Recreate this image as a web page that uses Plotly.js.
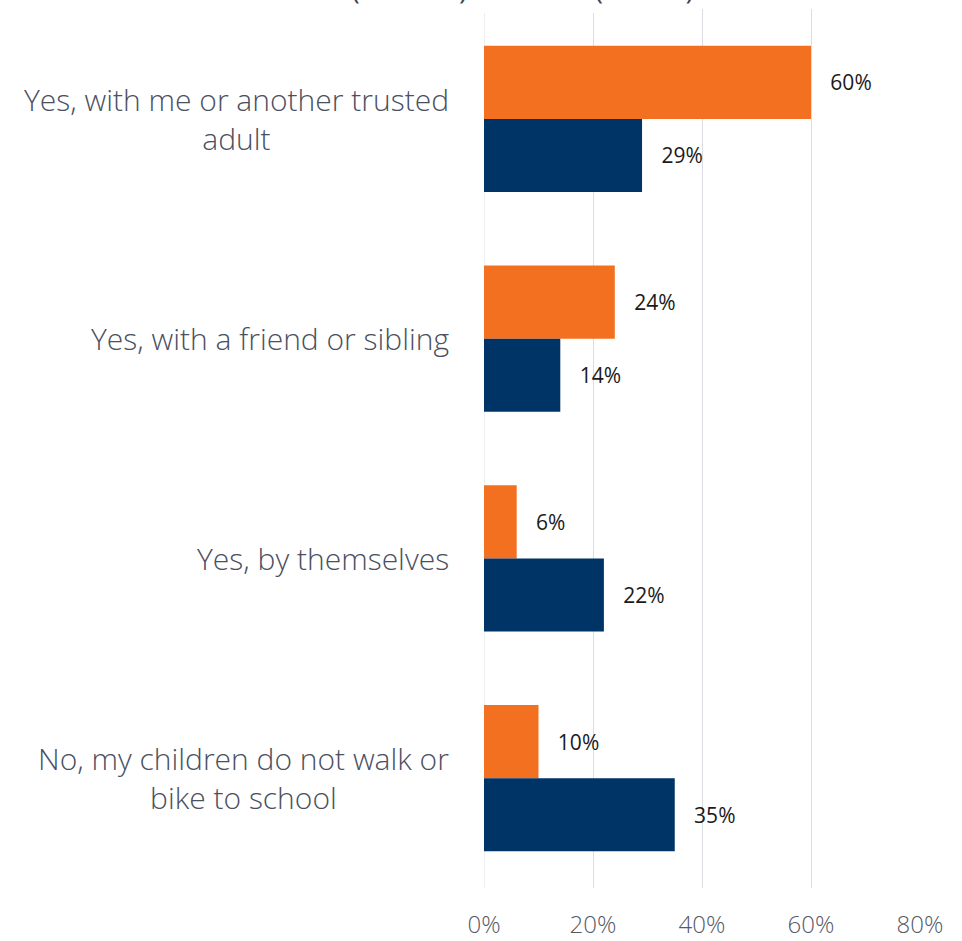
<!DOCTYPE html>
<html>
<head>
<meta charset="utf-8">
<script src="https://cdn.plot.ly/plotly-3.0.1.min.js"></script>
<style>html,body{margin:0;padding:0;background:#fff;}#chart{width:962px;height:941px;}</style>
</head>
<body>
<div id="chart"></div>
<script>
var categories = [
  "Yes, with me or another trusted<br>adult",
  "Yes, with a friend or sibling",
  "Yes, by themselves",
  "No, my children do not walk or<br>bike to school"
];
var westName = "West (n = 150)";
var eastName = "East (n = 65)";
var westValues = [0.29, 0.14, 0.22, 0.35];
var eastValues = [0.60, 0.24, 0.06, 0.10];
var xTickVals = [0, 0.2, 0.4, 0.6, 0.8];
var xTickText = ["0%", "20%", "40%", "60%", "80%"];

var pad = "\u00a0\u00a0\u00a0";
var labelFont = {family: "Open Sans, Noto Sans, sans-serif", size: 21, color: "#1a1a1a"};
var catFont = {family: "Open Sans, Noto Sans, sans-serif", size: 30, color: "#4a5060", weight: 300};

var traces = [
  {
    type: "bar", orientation: "h", name: eastName,
    y: categories, x: eastValues,
    marker: {color: "#F37021"},
    text: eastValues.map(function(v){return pad + Math.round(v*100) + "%";}),
    textposition: "outside", textfont: labelFont, cliponaxis: false,
    hoverinfo: "skip"
  },
  {
    type: "bar", orientation: "h", name: westName,
    y: categories, x: westValues,
    marker: {color: "#003366"},
    text: westValues.map(function(v){return pad + Math.round(v*100) + "%";}),
    textposition: "outside", textfont: labelFont, cliponaxis: false,
    hoverinfo: "skip"
  }
];

var annotations = categories.map(function(c){
  return {
    xref: "paper", yref: "y", x: 0, y: c, xanchor: "right", yanchor: "middle",
    xshift: -33, align: "center", showarrow: false, text: c, font: catFont
  };
});

var layout = {
  width: 962, height: 941,
  margin: {l: 484, r: 42, t: 9, b: 53, autoexpand: false},
  paper_bgcolor: "#ffffff", plot_bgcolor: "#ffffff",
  barmode: "group", bargap: 0.335, bargroupgap: 0,
  showlegend: true,
  legend: {
    orientation: "h", x: -0.609, xanchor: "left", y: 0.995, yanchor: "bottom",
    traceorder: "reversed", itemwidth: 48,
    font: {family: "Open Sans, Noto Sans, sans-serif", size: 29, color: "#404552"}
  },
  annotations: annotations,
  xaxis: {
    range: [0, 0.8], tickvals: xTickVals, ticktext: xTickText,
    showgrid: true, gridcolor: "#dcdde2", gridwidth: 1,
    zeroline: false, showline: false, ticks: "",
    ticklabelstandoff: 20,
    tickfont: {family: "Open Sans, Noto Sans, sans-serif", size: 24, color: "#555a68", weight: 300},
    fixedrange: true
  },
  yaxis: {
    type: "category", autorange: "reversed",
    showgrid: false, zeroline: false, showline: false, ticks: "",
    showticklabels: false,
    fixedrange: true
  },
  shapes: [{
    type: "line", xref: "x", yref: "paper", x0: 0, x1: 0, y0: 0, y1: 1,
    line: {color: "#dcdde2", width: 1}, layer: "below"
  }]
};

Plotly.newPlot("chart", traces, layout, {displayModeBar: false, staticPlot: true});
</script>
</body>
</html>
